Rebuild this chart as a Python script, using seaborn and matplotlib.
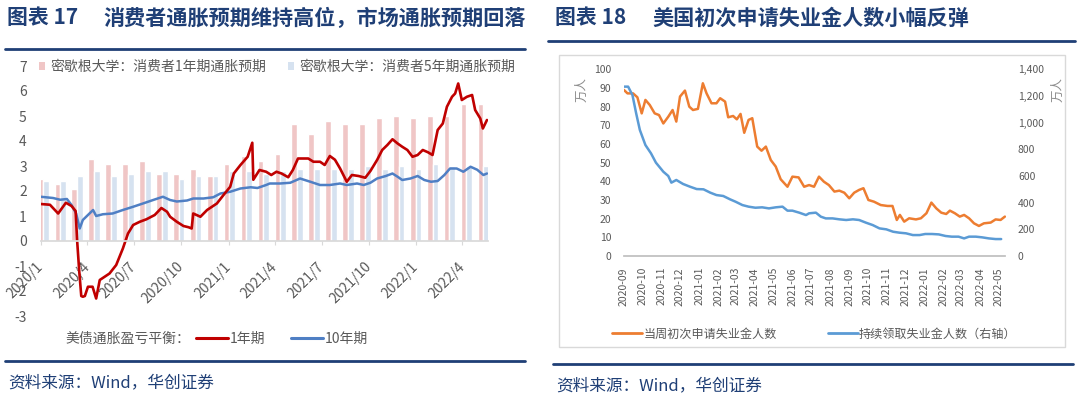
import matplotlib
matplotlib.use("Agg")
import matplotlib.pyplot as plt
from matplotlib.lines import Line2D
from matplotlib.patches import Rectangle, Patch
from matplotlib.ticker import FuncFormatter
import pandas as pd
import seaborn as sns

# ---------- figure 17: inflation expectations ----------
survey_1y = [2.5, 2.3, 2.1, 3.3, 3.1, 3.1, 3.2, 2.7, 2.7, 2.9, 2.6, 3.1, 3.4, 3.2,
             3.5, 4.7, 4.3, 4.8, 4.7, 4.7, 4.9, 5.0, 4.9, 5.0, 5.0, 5.5, 5.5]
survey_5y = [2.4, 2.4, 2.6, 2.8, 2.6, 2.7, 2.8, 2.8, 2.5, 2.6, 2.6, 2.8, 2.8, 2.7,
             2.8, 2.9, 2.9, 2.9, 2.9, 3.0, 2.9, 3.0, 2.9, 3.1, 3.0, 3.0, 3.0]

be1_dates = ["2020-01-01", "2020-01-19", "2020-02-04", "2020-02-19", "2020-03-01",
             "2020-03-09", "2020-03-12", "2020-03-16", "2020-03-20", "2020-03-23",
             "2020-03-27", "2020-04-02", "2020-04-11", "2020-04-18", "2020-04-25",
             "2020-05-14", "2020-05-27", "2020-06-09", "2020-06-19", "2020-06-29",
             "2020-07-12", "2020-07-25", "2020-08-10", "2020-08-23", "2020-09-03",
             "2020-09-09", "2020-09-22", "2020-10-05", "2020-10-15", "2020-10-21",
             "2020-10-24", "2020-11-07", "2020-11-20", "2020-12-09", "2020-12-22",
             "2021-01-04", "2021-01-11", "2021-01-24", "2021-02-07", "2021-02-16",
             "2021-02-18", "2021-03-02", "2021-03-15", "2021-03-25", "2021-04-04",
             "2021-04-14", "2021-04-27", "2021-05-06", "2021-05-16", "2021-05-26",
             "2021-06-05", "2021-06-15", "2021-06-28", "2021-07-07", "2021-07-17",
             "2021-07-27", "2021-08-06", "2021-08-19", "2021-08-29", "2021-09-11",
             "2021-09-24", "2021-10-04", "2021-10-17", "2021-10-27", "2021-11-06",
             "2021-11-16", "2021-11-26", "2021-12-05", "2021-12-15", "2021-12-25",
             "2022-01-04", "2022-01-14", "2022-01-24", "2022-02-02", "2022-02-12",
             "2022-02-22", "2022-03-02", "2022-03-12", "2022-03-18", "2022-03-24",
             "2022-03-31", "2022-04-10", "2022-04-20", "2022-04-26", "2022-05-06",
             "2022-05-11", "2022-05-19"]
be1_vals = [1.48, 1.45, 1.10, 1.53, 1.40, 1.20, 0.00, -1.20, -2.20, -2.23,
            -2.20, -1.83, -1.83, -2.30, -1.56, -1.30, -0.96, -0.30, 0.30, 0.64,
            0.77, 0.87, 1.04, 1.32, 1.17, 0.97, 0.77, 0.60, 0.55, 0.50,
            1.10, 0.97, 1.24, 1.50, 1.84, 2.17, 2.70, 3.04, 3.37, 3.93,
            2.45, 2.84, 2.77, 2.64, 2.77, 2.70, 2.55, 2.84, 3.30, 3.30,
            3.30, 3.17, 3.17, 3.04, 3.40, 3.25, 2.90, 2.37, 2.64, 2.60,
            2.53, 2.80, 3.24, 3.64, 3.84, 4.07, 3.90, 3.77, 3.64, 3.37,
            3.44, 3.64, 3.55, 3.44, 4.44, 4.70, 5.37, 5.77, 5.90, 6.30,
            5.64, 5.77, 5.84, 5.24, 4.90, 4.50, 4.84]

be10_dates = ["2020-01-01", "2020-01-25", "2020-02-08", "2020-02-21", "2020-03-01",
              "2020-03-10", "2020-03-17", "2020-03-23", "2020-04-02", "2020-04-12",
              "2020-04-18", "2020-05-01", "2020-05-20", "2020-06-09", "2020-06-29",
              "2020-07-18", "2020-08-07", "2020-08-26", "2020-09-09", "2020-09-22",
              "2020-10-12", "2020-10-24", "2020-11-13", "2020-12-02", "2020-12-16",
              "2021-01-04", "2021-01-24", "2021-02-13", "2021-02-26", "2021-03-15",
              "2021-03-22", "2021-04-11", "2021-05-01", "2021-05-20", "2021-06-09",
              "2021-06-28", "2021-07-17", "2021-08-06", "2021-08-19", "2021-09-08",
              "2021-09-21", "2021-10-04", "2021-10-17", "2021-11-03", "2021-11-16",
              "2021-11-26", "2021-12-05", "2021-12-21", "2022-01-04", "2022-01-17",
              "2022-01-30", "2022-02-12", "2022-02-25", "2022-03-08", "2022-03-21",
              "2022-04-03", "2022-04-17", "2022-04-30", "2022-05-12", "2022-05-19"]
be10_vals = [1.77, 1.72, 1.65, 1.68, 1.44, 1.10, 0.50, 0.84, 1.04, 1.24,
             1.00, 1.07, 1.10, 1.24, 1.37, 1.50, 1.64, 1.77, 1.64, 1.58,
             1.62, 1.70, 1.70, 1.75, 1.90, 1.97, 2.10, 2.15, 2.12, 2.24,
             2.30, 2.30, 2.33, 2.50, 2.37, 2.24, 2.24, 2.30, 2.24, 2.30,
             2.24, 2.33, 2.50, 2.60, 2.70, 2.57, 2.44, 2.50, 2.60, 2.44,
             2.37, 2.40, 2.64, 2.90, 2.90, 2.77, 2.97, 2.85, 2.64, 2.70]

left_xticks = ["2020-01-01", "2020-04-01", "2020-07-01", "2020-10-01", "2021-01-01",
               "2021-04-01", "2021-07-01", "2021-10-01", "2022-01-01", "2022-04-01"]
left_xlabels = ["2020/1", "2020/4", "2020/7", "2020/10", "2021/1",
                "2021/4", "2021/7", "2021/10", "2022/1", "2022/4"]

# ---------- figure 18: jobless claims (万人) ----------
init_dates = ["2020-09-01", "2020-09-07", "2020-09-16", "2020-09-23", "2020-09-30",
              "2020-10-06", "2020-10-13", "2020-10-21", "2020-10-28", "2020-11-04",
              "2020-11-12", "2020-11-19", "2020-11-25", "2020-12-01", "2020-12-09",
              "2020-12-16", "2020-12-22", "2020-12-30", "2021-01-07", "2021-01-13",
              "2021-01-21", "2021-01-29", "2021-02-04", "2021-02-12", "2021-02-17",
              "2021-02-25", "2021-03-03", "2021-03-09", "2021-03-15", "2021-03-22",
              "2021-03-28", "2021-04-05", "2021-04-12", "2021-04-19", "2021-04-27",
              "2021-05-05", "2021-05-13", "2021-05-24", "2021-06-01", "2021-06-11",
              "2021-06-20", "2021-06-28", "2021-07-06", "2021-07-14", "2021-07-22",
              "2021-07-30", "2021-08-08", "2021-08-16", "2021-08-24", "2021-09-01",
              "2021-09-09", "2021-09-17", "2021-09-24", "2021-10-02", "2021-10-11",
              "2021-10-22", "2021-11-02", "2021-11-10", "2021-11-17", "2021-11-22",
              "2021-11-29", "2021-12-07", "2021-12-18", "2021-12-26", "2022-01-04",
              "2022-01-12", "2022-01-20", "2022-01-28", "2022-02-05", "2022-02-11",
              "2022-02-19", "2022-02-27", "2022-03-06", "2022-03-14", "2022-03-22",
              "2022-03-30", "2022-04-07", "2022-04-18", "2022-04-26", "2022-05-04",
              "2022-05-11"]
init_vals = [89.0, 87.1, 87.1, 85.0, 76.4, 83.6, 80.9, 76.4, 75.5, 71.0,
             74.6, 78.2, 72.0, 85.4, 88.6, 80.0, 78.2, 78.8, 92.5, 87.1,
             81.8, 81.8, 84.5, 82.7, 74.3, 75.0, 73.2, 76.1, 66.0, 72.9,
             73.8, 58.6, 56.4, 58.6, 51.4, 47.9, 41.1, 37.1, 42.5, 42.1,
             37.1, 38.0, 37.1, 42.5, 39.8, 38.0, 34.5, 35.0, 33.9, 30.9,
             33.9, 35.4, 36.3, 30.0, 29.1, 27.3, 26.8, 26.8, 19.3, 22.0,
             18.4, 20.2, 19.6, 20.2, 22.9, 28.6, 25.5, 23.2, 22.5, 24.3,
             22.9, 21.1, 22.0, 20.2, 17.5, 16.1, 17.5, 17.9, 19.6, 19.3,
             21.1]

cont_dates = ["2020-09-01", "2020-09-08", "2020-09-15", "2020-09-21", "2020-09-27",
              "2020-10-06", "2020-10-15", "2020-10-23", "2020-11-04", "2020-11-12",
              "2020-11-17", "2020-11-25", "2020-12-06", "2020-12-17", "2020-12-28",
              "2021-01-08", "2021-01-19", "2021-01-29", "2021-02-09", "2021-02-20",
              "2021-03-01", "2021-03-12", "2021-03-22", "2021-04-02", "2021-04-13",
              "2021-04-24", "2021-05-05", "2021-05-16", "2021-05-24", "2021-06-01",
              "2021-06-12", "2021-06-23", "2021-06-28", "2021-07-09", "2021-07-17",
              "2021-07-25", "2021-08-05", "2021-08-16", "2021-08-27", "2021-09-07",
              "2021-09-17", "2021-09-28", "2021-10-09", "2021-10-20", "2021-10-31",
              "2021-11-11", "2021-11-21", "2021-12-02", "2021-12-13", "2021-12-24",
              "2022-01-02", "2022-01-13", "2022-01-24", "2022-02-04", "2022-02-14",
              "2022-02-25", "2022-03-06", "2022-03-14", "2022-03-25", "2022-04-04",
              "2022-04-15", "2022-04-26", "2022-05-05"]
cont_vals = [1270, 1270, 1207, 1070, 945, 832, 770, 700, 632, 600,
             550, 570, 540, 520, 502, 500, 475, 457, 450, 425,
             407, 382, 370, 362, 365, 357, 365, 370, 340, 340,
             325, 307, 320, 325, 295, 282, 282, 275, 270, 275,
             270, 250, 232, 207, 200, 182, 175, 170, 157, 157,
             165, 165, 162, 150, 145, 145, 132, 145, 145, 140,
             132, 127, 127]

right_xticks = pd.date_range("2020-09-01", "2022-05-01", freq="MS")

NAVY = "#1F3F76"
GREY_TXT = "#595959"
PINK = "#F0C6C6"
LBLUE = "#D6E2F0"
RED = "#C00000"
BLUE = "#4F7FC4"
ORANGE = "#ED7D31"
SKY = "#5B9BD5"

sns.set_theme(style="white")
plt.rcParams["font.family"] = ["Noto Sans CJK SC", "DejaVu Sans"]
plt.rcParams["axes.unicode_minus"] = False

W, H = 1080, 398
fig = plt.figure(figsize=(W / 100, H / 100), dpi=100)


def fx(px):
    return px / W


def fy(py):
    return 1 - py / H


def hline(x0, x1, y, lw=2.0):
    fig.add_artist(Line2D([fx(x0), fx(x1)], [fy(y), fy(y)], color=NAVY, lw=lw))


# ---------- headers / footers ----------
fig.text(fx(7), fy(18), "图表 17", color=NAVY, fontsize=15, fontweight="bold", va="center")
fig.text(fx(103), fy(18), "消费者通胀预期维持高位，市场通胀预期回落", color=NAVY,
         fontsize=15.2, fontweight="bold", va="center")
fig.text(fx(555), fy(18), "图表 18", color=NAVY, fontsize=15, fontweight="bold", va="center")
fig.text(fx(652), fy(18), "美国初次申请失业金人数小幅反弹", color=NAVY,
         fontsize=15.2, fontweight="bold", va="center")
hline(5, 525, 49)
hline(548, 1075, 41)
hline(5, 525, 361)
hline(553, 1073, 364)
fig.text(fx(8), fy(383), "资料来源：Wind，华创证券", color=NAVY, fontsize=12,
         fontstyle="italic", va="center")
fig.text(fx(556), fy(386), "资料来源：Wind，华创证券", color=NAVY, fontsize=12,
         fontstyle="italic", va="center")

# ---------- left panel ----------
ax = fig.add_axes([fx(40.7), fy(316), (488 - 40.7) / W, 250 / H])
n = len(survey_1y)
bars = pd.DataFrame({
    "idx": list(range(n)) * 2,
    "value": survey_1y + survey_5y,
    "series": ["1y"] * n + ["5y"] * n,
})
sns.barplot(data=bars, x="idx", y="value", hue="series", palette=[PINK, LBLUE],
            width=0.68, saturation=1, errorbar=None, legend=False, ax=ax)
ax.set_xlim(-0.16, 26.28)
ax.set_ylim(-3, 7)
ax.set_xticks([])
ax.set_xlabel("")
ax.set_ylabel("")
ax.set_yticks(range(-3, 8))
ax.tick_params(axis="y", length=0, pad=10, labelsize=10, labelcolor=GREY_TXT)
for s in ax.spines.values():
    s.set_visible(False)

ax2 = ax.twiny()
sns.lineplot(x=pd.to_datetime(be10_dates), y=be10_vals, ax=ax2, color=BLUE, lw=1.8)
sns.lineplot(x=pd.to_datetime(be1_dates), y=be1_vals, ax=ax2, color=RED, lw=1.9)
ax2.set_xlim(pd.Timestamp("2020-01-01"), pd.Timestamp("2022-05-21"))
ax2.set_ylim(-3, 7)
ax2.set_xlabel("")
ax2.set_ylabel("")
for k in ("top", "left", "right"):
    ax2.spines[k].set_visible(False)
ax2.spines["bottom"].set_visible(True)
ax2.spines["bottom"].set_position(("data", 0))
ax2.spines["bottom"].set_color("#D9D9D9")
ax2.xaxis.set_ticks_position("bottom")
ax2.set_xticks(pd.to_datetime(left_xticks))
ax2.set_xticklabels(left_xlabels, rotation=45, ha="right", va="center",
                    rotation_mode="anchor")
ax2.tick_params(axis="x", direction="out", length=3, width=0.8, color="#D9D9D9",
                pad=14, labelsize=10, labelcolor=GREY_TXT)

leg_top = [Patch(facecolor=PINK, edgecolor="none"), Patch(facecolor=LBLUE, edgecolor="none")]
fig.legend(leg_top, ["密歇根大学：消费者1年期通胀预期", "密歇根大学：消费者5年期通胀预期"],
           loc="center left", bbox_to_anchor=(fx(39), fy(67)), ncol=2, frameon=False,
           fontsize=10, labelcolor=GREY_TXT, handlelength=0.45, handleheight=0.45,
           handletextpad=0.35, columnspacing=1.6, borderpad=0, borderaxespad=0)

fig.text(fx(65), fy(339), "美债通胀盈亏平衡：", color=GREY_TXT, fontsize=10, va="center")
leg_bot = [Line2D([], [], color=RED, lw=2.2), Line2D([], [], color=BLUE, lw=2.2)]
fig.legend(leg_bot, ["1年期", "10年期"], loc="center left",
           bbox_to_anchor=(fx(196), fy(339)), ncol=2, frameon=False, fontsize=10,
           labelcolor=GREY_TXT, handlelength=2.3, handletextpad=0.1,
           columnspacing=1.9, borderpad=0, borderaxespad=0)

# ---------- right panel ----------
fig.add_artist(Rectangle((fx(559), fy(347)), (1065 - 559) / W, (347 - 55) / H,
                         transform=fig.transFigure, fill=False, ec="#D9D9D9", lw=1))

bx = fig.add_axes([fx(623.8), fy(256), (1005.5 - 623.8) / W, (256 - 69.3) / H])
sns.lineplot(x=pd.to_datetime(init_dates), y=init_vals, ax=bx, color=ORANGE, lw=1.8)
bx.set_ylim(0, 100)
bx.set_yticks(range(0, 101, 10))
bx.set_xlim(pd.Timestamp("2020-09-01"), pd.Timestamp("2022-05-12"))
bx.set_xticks(right_xticks)
bx.set_xticklabels([d.strftime("%Y-%m") for d in right_xticks], rotation=90,
                   ha="center", va="top")
bx.tick_params(axis="x", direction="out", length=5, width=0.8, color="#BFBFBF",
               pad=3, labelsize=7.5, labelcolor=GREY_TXT)
bx.tick_params(axis="y", length=0, pad=9, labelsize=7.5, labelcolor=GREY_TXT)
for k in ("top", "left", "right"):
    bx.spines[k].set_visible(False)
bx.spines["bottom"].set_color("#BFBFBF")
bx.set_xlabel("")
bx.set_ylabel("")

bx2 = bx.twinx()
sns.lineplot(x=pd.to_datetime(cont_dates), y=cont_vals, ax=bx2, color=SKY, lw=1.8)
bx2.set_ylim(0, 1400)
bx2.set_yticks(range(0, 1401, 200))
bx2.yaxis.set_major_formatter(FuncFormatter(lambda v, p: f"{int(v):,}"))
bx2.tick_params(axis="y", length=0, pad=9, labelsize=7.5, labelcolor=GREY_TXT)
for s in bx2.spines.values():
    s.set_visible(False)
bx2.set_xlabel("")
bx2.set_ylabel("")

fig.text(fx(582), fy(90), "万人", color="#8C8C8C", fontsize=9, rotation=90,
         ha="center", va="center")
fig.text(fx(1058), fy(90), "万人", color="#8C8C8C", fontsize=9, rotation=90,
         ha="center", va="center")

leg_r = [Line2D([], [], color=ORANGE, lw=2), Line2D([], [], color=SKY, lw=2)]
fig.legend(leg_r, ["当周初次申请失业金人数", "持续领取失业金人数（右轴）"],
           loc="center left", bbox_to_anchor=(fx(612), fy(334)), ncol=2, frameon=False,
           fontsize=8.7, labelcolor=GREY_TXT, handlelength=2.5, handletextpad=0.1,
           columnspacing=4.2, borderpad=0, borderaxespad=0)

fig.savefig("out.png", dpi=100)
